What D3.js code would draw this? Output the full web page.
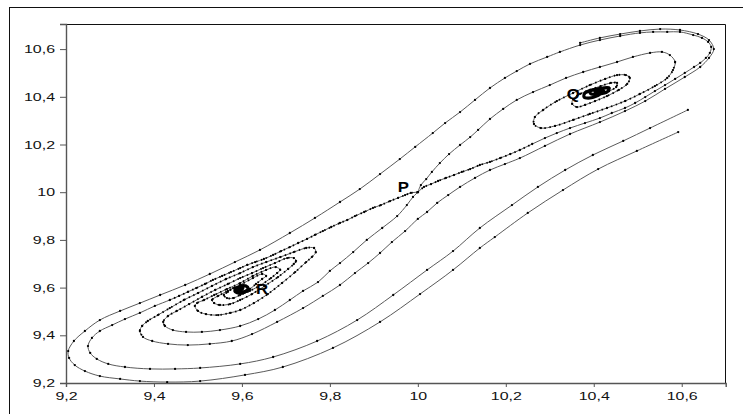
<!DOCTYPE html>
<html>
<head>
<meta charset="utf-8">
<script src="https://cdn.jsdelivr.net/npm/d3@7"></script>
<style>
  body { margin: 0; background: #fff; }
  svg { display: block; }
</style>
</head>
<body>
<svg id="chart" width="743" height="414"></svg>
<script>
// Axis ticks (decimal comma labels)
const tickValues = [9.2, 9.4, 9.6, 9.8, 10, 10.2, 10.4, 10.6];
const tickLabels = ["9,2", "9,4", "9,6", "9,8", "10", "10,2", "10,4", "10,6"];

// Equilibrium points
const pointNames = ["P", "Q", "R"];
const pointX = [10, 10.4, 9.6];
const pointY = [10, 10.42, 9.6];

// Trajectory leaving P up-right, round the top, the left end and the bottom
const outerOrbit = [
  [10.0,10.0],[10.014,10.022],[10.030,10.034],[10.046,10.047],[10.064,10.060],[10.082,10.072],
  [10.100,10.085],[10.119,10.097],[10.141,10.114],[10.164,10.127],[10.187,10.143],[10.210,10.160],
  [10.232,10.177],[10.260,10.202],[10.289,10.227],[10.316,10.248],[10.346,10.269],[10.380,10.290],
  [10.414,10.311],[10.441,10.332],[10.471,10.353],[10.494,10.374],[10.517,10.399],[10.539,10.424],
  [10.562,10.449],[10.585,10.475],[10.607,10.500],[10.628,10.525],[10.642,10.542],[10.655,10.563],
  [10.664,10.584],[10.667,10.609],[10.660,10.630],[10.646,10.647],[10.626,10.659],[10.596,10.672],
  [10.567,10.672],[10.535,10.672],[10.505,10.668],[10.460,10.655],[10.414,10.638],[10.369,10.617],
  [10.323,10.588],[10.294,10.567],[10.255,10.538],[10.225,10.508],[10.198,10.479],[10.164,10.437],
  [10.130,10.387],[10.096,10.336],[10.062,10.290],[10.034,10.248],[9.994,10.190],[9.959,10.139],
  [9.914,10.076],[9.868,10.013],[9.823,9.959],[9.766,9.892],[9.709,9.829],[9.641,9.758],
  [9.584,9.707],[9.527,9.657],[9.471,9.611],[9.414,9.569],[9.368,9.535],[9.323,9.502],
  [9.277,9.464],[9.243,9.418],[9.218,9.376],[9.205,9.334],[9.207,9.305],[9.220,9.275],
  [9.243,9.250],[9.277,9.229],[9.323,9.217],[9.368,9.208],[9.430,9.204],[9.505,9.208],
  [9.607,9.234],[9.693,9.267],[9.807,9.347],[9.914,9.456],[10.005,9.573],[10.080,9.674],
  [10.141,9.766],[10.175,9.812],[10.250,9.913],[10.330,10.009],[10.410,10.097],[10.498,10.173],
  [10.592,10.252]
];

// Trajectory leaving P down-left, round the left end and along the bottom
const innerOrbit = [
  [10.0,10.0],[9.984,9.997],[9.971,9.988],[9.955,9.976],[9.937,9.963],[9.916,9.946],
  [9.898,9.934],[9.878,9.917],[9.857,9.900],[9.839,9.883],[9.823,9.871],[9.803,9.854],
  [9.784,9.837],[9.766,9.821],[9.748,9.804],[9.728,9.787],[9.709,9.770],[9.689,9.753],
  [9.671,9.737],[9.650,9.720],[9.630,9.707],[9.612,9.695],[9.596,9.682],[9.575,9.665],
  [9.555,9.649],[9.534,9.632],[9.516,9.615],[9.496,9.598],[9.477,9.582],[9.457,9.565],
  [9.436,9.548],[9.402,9.523],[9.368,9.494],[9.334,9.468],[9.305,9.443],[9.277,9.418],
  [9.259,9.389],[9.250,9.355],[9.255,9.326],[9.270,9.301],[9.296,9.280],[9.334,9.267],
  [9.391,9.259],[9.448,9.259],[9.505,9.263],[9.596,9.280],[9.671,9.309],[9.771,9.376],
  [9.862,9.464],[9.944,9.569],[10.021,9.674],[10.080,9.753],[10.141,9.850],[10.214,9.946],
  [10.273,10.022],[10.335,10.093],[10.398,10.156],[10.467,10.215],[10.528,10.269],[10.614,10.345]
];

// Spiral out of R that passes below P and joins the outer loop
const spiralR1 = [
  [9.591,9.594],[9.598,9.590],[9.602,9.598],[9.596,9.603],[9.587,9.598],[9.584,9.586],
  [9.593,9.577],[9.607,9.582],[9.614,9.598],[9.609,9.607],[9.596,9.607],[9.580,9.598],
  [9.568,9.582],[9.559,9.569],[9.566,9.556],[9.580,9.556],[9.596,9.569],[9.618,9.586],
  [9.643,9.611],[9.666,9.640],[9.680,9.661],[9.687,9.674],[9.677,9.686],[9.655,9.674],
  [9.625,9.649],[9.596,9.619],[9.566,9.594],[9.537,9.569],[9.514,9.548],[9.498,9.535],
  [9.493,9.523],[9.500,9.502],[9.518,9.489],[9.546,9.485],[9.573,9.494],[9.596,9.506],
  [9.627,9.535],[9.659,9.573],[9.691,9.619],[9.721,9.665],[9.746,9.707],[9.759,9.728],
  [9.768,9.749],[9.764,9.766],[9.746,9.766],[9.718,9.749],[9.687,9.728],[9.655,9.707],
  [9.625,9.686],[9.596,9.661],[9.564,9.636],[9.532,9.607],[9.500,9.577],[9.468,9.548],
  [9.436,9.514],[9.409,9.485],[9.386,9.460],[9.373,9.439],[9.368,9.418],[9.375,9.393],
  [9.396,9.376],[9.432,9.364],[9.477,9.359],[9.527,9.364],[9.577,9.376],[9.623,9.405],
  [9.680,9.456],[9.739,9.514],[9.784,9.565],[9.823,9.611],[9.857,9.661],[9.887,9.703],
  [9.914,9.745],[9.941,9.791],[9.971,9.837],[10.000,9.888],[10.021,9.917],[10.044,9.955],
  [10.069,9.988],[10.096,10.022],[10.130,10.060],[10.164,10.093],[10.198,10.118],[10.232,10.143],
  [10.289,10.194],[10.346,10.244],[10.414,10.294],[10.471,10.340],[10.517,10.382],[10.562,10.433],
  [10.607,10.483],[10.642,10.525],[10.662,10.563],[10.673,10.600],[10.662,10.638],[10.637,10.663],
  [10.596,10.680],[10.551,10.684],[10.505,10.676],[10.460,10.663],[10.414,10.647],[10.369,10.626]
];

// Spiral out of R that runs into P from below
const spiralR2 = [
  [9.593,9.598],[9.587,9.590],[9.591,9.582],[9.605,9.582],[9.618,9.594],[9.632,9.615],
  [9.646,9.636],[9.655,9.649],[9.646,9.657],[9.625,9.640],[9.596,9.611],[9.568,9.586],
  [9.546,9.565],[9.532,9.548],[9.537,9.535],[9.550,9.527],[9.573,9.531],[9.596,9.548],
  [9.623,9.573],[9.652,9.607],[9.682,9.644],[9.705,9.678],[9.718,9.699],[9.723,9.712],
  [9.718,9.724],[9.703,9.724],[9.675,9.703],[9.648,9.682],[9.623,9.661],[9.596,9.640],
  [9.568,9.615],[9.539,9.590],[9.509,9.561],[9.480,9.531],[9.452,9.502],[9.432,9.481],
  [9.421,9.456],[9.425,9.439],[9.443,9.422],[9.473,9.414],[9.509,9.414],[9.550,9.422],
  [9.596,9.439],[9.637,9.468],[9.675,9.506],[9.709,9.548],[9.739,9.586],[9.773,9.623],
  [9.800,9.670],[9.823,9.703],[9.853,9.749],[9.884,9.800],[9.919,9.850],[9.953,9.900],
  [9.975,9.946],[9.989,9.980],[10.0,10.0]
];

// Spiral out of Q that runs into P from above
const spiralQ = [
  [10.0,10.0],[10.007,10.030],[10.019,10.055],[10.032,10.085],[10.050,10.122],[10.071,10.160],
  [10.096,10.198],[10.119,10.231],[10.137,10.261],[10.164,10.307],[10.194,10.349],[10.225,10.387],
  [10.262,10.420],[10.300,10.449],[10.337,10.479],[10.376,10.504],[10.414,10.525],[10.453,10.546],
  [10.489,10.567],[10.528,10.584],[10.555,10.588],[10.573,10.575],[10.585,10.546],[10.580,10.512],
  [10.567,10.479],[10.539,10.445],[10.505,10.412],[10.471,10.382],[10.430,10.353],[10.391,10.328],
  [10.353,10.303],[10.312,10.278],[10.280,10.269],[10.264,10.286],[10.266,10.315],[10.285,10.345],
  [10.316,10.382],[10.353,10.416],[10.391,10.449],[10.426,10.475],[10.453,10.491],[10.473,10.491],
  [10.482,10.479],[10.476,10.454],[10.457,10.429],[10.430,10.403],[10.403,10.382],[10.380,10.366],
  [10.362,10.357],[10.351,10.370],[10.353,10.391],[10.369,10.412],[10.391,10.429],[10.416,10.445],
  [10.439,10.458],[10.453,10.458],[10.451,10.441],[10.435,10.424],[10.412,10.407],[10.391,10.395],
  [10.378,10.399],[10.380,10.416],[10.398,10.429],[10.421,10.437],[10.435,10.437],[10.430,10.420],
  [10.412,10.412],[10.394,10.412],[10.391,10.424],[10.407,10.429],[10.423,10.424],[10.414,10.416],
  [10.402,10.420]
];

const trajectories = [outerOrbit, innerOrbit, spiralR1, spiralR2, spiralQ];

// slow stretches near the saddle and the foci, where the integration steps crowd together
const slowStretches = [
  spiralR1.slice(10, 60), spiralR2.slice(4, 38), spiralQ.slice(22, 64),
  innerOrbit.slice(0, 31), outerOrbit.slice(0, 14)
];
// innermost turns of each spiral
const focusCores = [spiralR1.slice(0, 11), spiralR2.slice(0, 5), spiralQ.slice(58)];

const svg = d3.select("#chart");
svg.append("rect").attr("width", 743).attr("height", 414).attr("fill", "#fff");

// outer frame (runs off the right and bottom edges)
svg.append("rect")
  .attr("x", 9.5).attr("y", 7.5).attr("width", 800).attr("height", 500)
  .attr("fill", "none").attr("stroke", "#111").attr("stroke-width", 1);

const box = { left: 66, right: 726, top: 24, bottom: 383 };
const x = d3.scaleLinear().domain([9.2, 10.7]).range([box.left, 725.7]);
const y = d3.scaleLinear().domain([9.2, 10.705]).range([box.bottom, 24.06]);

// top and right edges of the plot box
svg.append("path")
  .attr("d", `M${box.left},${box.top + 0.5}H${box.right - 0.5}V${box.bottom}`)
  .attr("fill", "none").attr("stroke", "#111").attr("stroke-width", 1);

svg.append("defs").append("clipPath").attr("id", "plot")
  .append("rect").attr("x", box.left).attr("y", box.top)
  .attr("width", box.right - box.left).attr("height", box.bottom - box.top);

const labelOf = v => tickLabels[tickValues.indexOf(v)];
const stretch = 1.45;

const yAxis = svg.append("g")
  .attr("transform", `translate(${box.left},0)`)
  .call(d3.axisLeft(y).tickValues(tickValues).tickFormat(labelOf).tickSize(6).tickPadding(5));
const xAxis = svg.append("g")
  .attr("transform", `translate(0,${box.bottom})`)
  .call(d3.axisBottom(x).tickValues(tickValues).tickFormat(labelOf).tickSize(4).tickPadding(5));

[xAxis, yAxis].forEach(g => {
  g.select(".domain").attr("stroke", "#555").attr("stroke-width", 1.4);
  g.selectAll(".tick line").attr("stroke", "#555").attr("stroke-width", 1);
  g.selectAll("text")
    .attr("fill", "#111")
    .style("font-family", "'Liberation Sans', Arial, sans-serif")
    .style("font-size", "11px");
});
yAxis.selectAll("text").attr("x", -11 / stretch).attr("transform", `scale(${stretch},1)`);
xAxis.selectAll("text").attr("transform", `scale(${stretch},1)`);

// trajectories
const line = d3.line()
  .x(d => x(d[0])).y(d => y(d[1]))
  .curve(d3.curveCatmullRom.alpha(0.5));

const plot = svg.append("g").attr("clip-path", "url(#plot)");
plot.selectAll("path.traj")
  .data(trajectories)
  .join("path")
  .attr("class", "traj")
  .attr("d", line)
  .attr("fill", "none")
  .attr("stroke", "#5a5a5a")
  .attr("stroke-width", 1);

// crowded steps along the slow stretches
plot.selectAll("path.slow")
  .data(slowStretches)
  .join("path")
  .attr("class", "slow")
  .attr("d", line)
  .attr("fill", "none")
  .attr("stroke", "#000")
  .attr("stroke-width", 1.8)
  .attr("stroke-dasharray", "1.4 3.6");

// tightly wound centres
plot.selectAll("path.core")
  .data(focusCores)
  .join("path")
  .attr("class", "core")
  .attr("d", line)
  .attr("fill", "none")
  .attr("stroke", "#000")
  .attr("stroke-width", 3.2)
  .attr("stroke-linejoin", "round");

plot.selectAll("g.steps")
  .data(trajectories)
  .join("g")
  .attr("class", "steps")
  .selectAll("circle")
  .data(d => d)
  .join("circle")
  .attr("cx", d => x(d[0]))
  .attr("cy", d => y(d[1]))
  .attr("r", 1.15)
  .attr("fill", "#000");

// equilibrium labels
const labelOffset = { P: [-20, 0], Q: [-27, 7], R: [14, 6] };
svg.selectAll("g.eq")
  .data(pointNames.map((n, i) => ({ n, px: pointX[i], py: pointY[i] })))
  .join("g")
  .attr("class", "eq")
  .attr("transform", d => `translate(${x(d.px) + labelOffset[d.n][0]},${y(d.py) + labelOffset[d.n][1]}) scale(1.2,1)`)
  .append("text")
  .text(d => d.n)
  .attr("fill", "#000")
  .style("font-family", "'Liberation Sans', Arial, sans-serif")
  .style("font-weight", "bold")
  .style("font-size", "14px");
</script>
</body>
</html>
